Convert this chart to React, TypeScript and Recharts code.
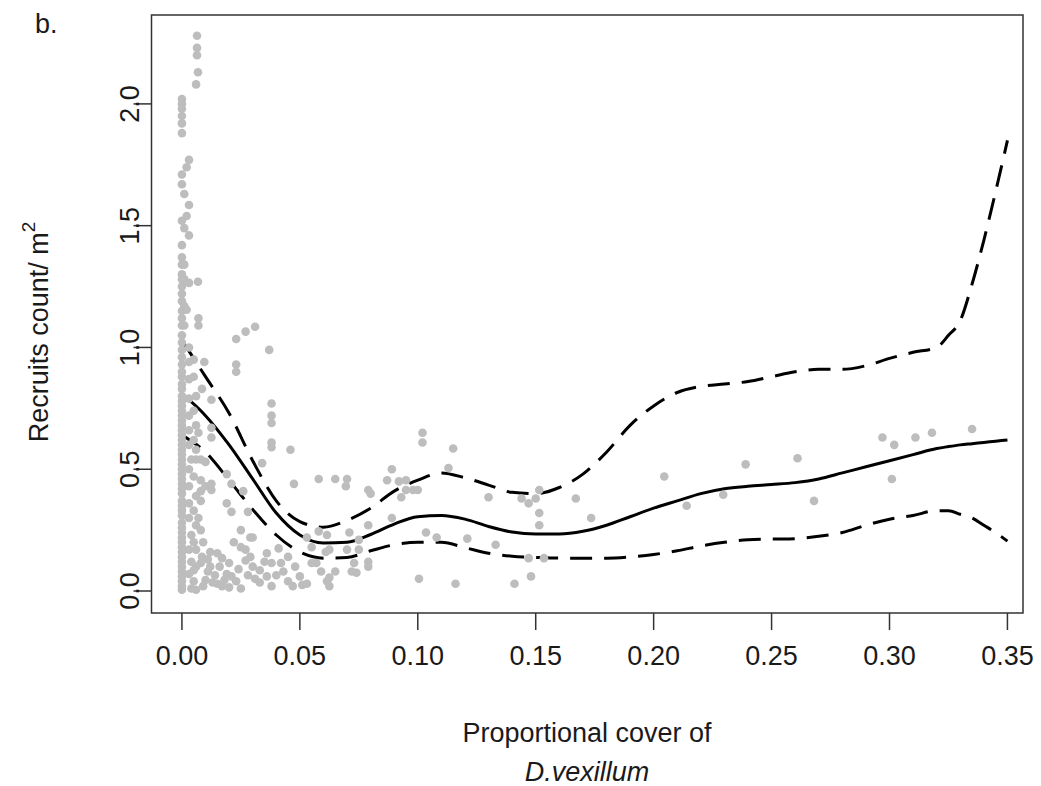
import React from "react";
import { ComposedChart, Scatter, Line, XAxis, YAxis, ReferenceArea } from "recharts";

// axis ticks
const xTicks = [0, 0.05, 0.1, 0.15, 0.2, 0.25, 0.3, 0.35];
const yTicks = [0, 0.5, 1, 1.5, 2];
const xDomain = [-0.0129, 0.3566];
const yDomain = [-0.0903, 2.365];

// fitted smooth + confidence band
const coverGrid = [
  0, 0.01, 0.02, 0.03, 0.04, 0.05, 0.06, 0.07, 0.08, 0.09, 0.1, 0.11, 0.12, 0.13,
  0.14, 0.15, 0.16, 0.17, 0.18, 0.19, 0.2, 0.21, 0.22, 0.23, 0.24, 0.25, 0.26, 0.27,
  0.28, 0.29, 0.3, 0.31, 0.32, 0.325, 0.33, 0.335, 0.34, 0.345, 0.35,
];
const fitMean = [
  0.81, 0.72, 0.6, 0.46, 0.32, 0.23, 0.197, 0.2, 0.232, 0.275, 0.305, 0.31, 0.295, 0.265,
  0.242, 0.234, 0.234, 0.245, 0.27, 0.305, 0.34, 0.37, 0.4, 0.42, 0.43, 0.437, 0.445, 0.46,
  0.485, 0.51, 0.535, 0.56, 0.585, 0.593, 0.6, 0.605, 0.61, 0.615, 0.62,
];
const fitUpper = [
  1.03, 0.88, 0.73, 0.535, 0.37, 0.285, 0.262, 0.29, 0.34, 0.41, 0.455, 0.485, 0.465, 0.435,
  0.405, 0.4, 0.425, 0.48, 0.57, 0.68, 0.76, 0.815, 0.84, 0.85, 0.86, 0.88, 0.9, 0.91,
  0.91, 0.925, 0.955, 0.98, 1.0, 1.05, 1.11, 1.26, 1.44, 1.64, 1.85,
];
const fitLower = [
  0.64, 0.57, 0.455, 0.335, 0.23, 0.16, 0.135, 0.138, 0.165, 0.19, 0.2, 0.2, 0.178, 0.155,
  0.143, 0.138, 0.135, 0.135, 0.135, 0.14, 0.15, 0.165, 0.185, 0.2, 0.21, 0.213, 0.215, 0.225,
  0.24, 0.27, 0.295, 0.31, 0.33, 0.33, 0.315, 0.3, 0.27, 0.24, 0.205,
];

// observed quadrats with zero cover
const zeroCoverRecruits = [
  0.005, 0.02, 0.04, 0.06, 0.08, 0.1, 0.12, 0.14, 0.16, 0.18, 0.2, 0.22, 0.24, 0.26, 0.28,
  0.31, 0.33, 0.35, 0.37, 0.4, 0.42, 0.44, 0.46, 0.48, 0.5, 0.52, 0.54, 0.56, 0.58, 0.6,
  0.62, 0.64, 0.66, 0.68, 0.7, 0.72, 0.74, 0.76, 0.78, 0.8, 0.83, 0.85, 0.88, 0.9, 0.93,
  0.96, 0.99, 1.02, 1.05, 1.09, 1.12, 1.15, 1.19, 1.22, 1.25, 1.28, 1.3, 1.34, 1.37, 1.42,
  1.52, 1.67, 1.71, 1.88, 1.92, 1.95, 1.98, 2.0, 2.02,
];

// [cover, recruits] close to zero cover
const lowCoverPoints = [
  [0.002, 1.74], [0.003, 1.77], [0.001, 1.63], [0.002, 1.54], [0.003, 1.585], [0.001, 1.49],
  [0.003, 1.46], [0.001, 1.34], [0.001, 1.28], [0.003, 1.265], [0.001, 1.17], [0.002, 1.155],
  [0.001, 1.09], [0.003, 1.0], [0.003, 0.94], [0.003, 0.87], [0.003, 0.79], [0.003, 0.72],
  [0.003, 0.66], [0.003, 0.6], [0.004, 0.54], [0.003, 0.5], [0.003, 0.43], [0.003, 0.36],
  [0.003, 0.3], [0.004, 0.23], [0.003, 0.17], [0.004, 0.12], [0.003, 0.07], [0.004, 0.01],
  [0.0064, 2.28], [0.0064, 2.23], [0.0064, 2.2], [0.0068, 2.13], [0.006, 2.08],
  [0.0068, 1.27], [0.007, 1.12], [0.007, 1.09], [0.0095, 0.94], [0.0085, 0.83],
  [0.0125, 0.785], [0.007, 0.65], [0.0125, 0.67], [0.0125, 0.63], [0.008, 0.54],
  [0.006, 0.54], [0.008, 0.455], [0.0125, 0.44], [0.0125, 0.415], [0.008, 0.41],
  [0.008, 0.37], [0.007, 0.3], [0.008, 0.25], [0.006, 0.17], [0.0085, 0.14], [0.011, 0.13],
  [0.008, 0.115], [0.006, 0.005], [0.011, 0.08], [0.009, 0.02], [0.005, 0.085],
  [0.01, 0.045], [0.012, 0.16], [0.005, 0.95], [0.005, 0.88], [0.006, 0.8], [0.005, 0.74],
  [0.006, 0.68], [0.005, 0.62], [0.006, 0.58], [0.005, 0.47], [0.006, 0.39], [0.005, 0.33],
  [0.006, 0.27], [0.005, 0.2], [0.006, 0.1], [0.005, 0.04], [0.01, 0.53], [0.01, 0.43],
  [0.009, 0.2],
];

// [cover, recruits] 0.01 - 0.08
const smallCoverPoints = [
  [0.023, 1.035], [0.027, 1.065], [0.031, 1.085], [0.023, 0.93], [0.023, 0.9],
  [0.019, 0.48], [0.021, 0.44], [0.019, 0.36], [0.021, 0.325], [0.026, 0.41], [0.03, 0.22],
  [0.025, 0.25], [0.015, 0.155], [0.017, 0.135], [0.02, 0.115], [0.022, 0.2], [0.025, 0.18],
  [0.03, 0.1], [0.028, 0.065], [0.014, 0.065], [0.015, 0.03], [0.018, 0.045], [0.023, 0.04],
  [0.027, 0.17], [0.036, 0.155], [0.041, 0.175], [0.038, 0.115], [0.033, 0.085],
  [0.042, 0.115], [0.045, 0.14], [0.048, 0.1], [0.05, 0.06], [0.057, 0.115], [0.059, 0.08],
  [0.0615, 0.04], [0.053, 0.03], [0.045, 0.04], [0.04, 0.065], [0.038, 0.02], [0.033, 0.035],
  [0.074, 0.075], [0.073, 0.115], [0.038, 0.77], [0.038, 0.72], [0.038, 0.69],
  [0.038, 0.61], [0.038, 0.59], [0.037, 0.99], [0.046, 0.58], [0.034, 0.525],
  [0.028, 0.325], [0.0475, 0.44], [0.058, 0.46], [0.065, 0.46], [0.07, 0.46], [0.0695, 0.43],
  [0.053, 0.22], [0.0615, 0.23], [0.058, 0.245], [0.071, 0.24], [0.055, 0.18],
  [0.0625, 0.17], [0.07, 0.17], [0.029, 0.22], [0.051, 0.025], [0.0625, 0.055],
  [0.0625, 0.02], [0.061, 0.16], [0.055, 0.115], [0.065, 0.08], [0.075, 0.21],
  [0.079, 0.12], [0.079, 0.1], [0.072, 0.08], [0.075, 0.17], [0.079, 0.27],
  [0.016, 0.1], [0.019, 0.07], [0.013, 0.035], [0.02, 0.015], [0.024, 0.09], [0.027, 0.125],
  [0.017, 0.02], [0.021, 0.06], [0.025, 0.01], [0.031, 0.05], [0.035, 0.12], [0.043, 0.08],
  [0.047, 0.02], [0.036, 0.06], [0.029, 0.14], [0.012, 0.1],
];

// [cover, recruits] above 0.08
const highCoverPoints = [
  [0.079, 0.415], [0.08, 0.4], [0.087, 0.455], [0.089, 0.5], [0.092, 0.45], [0.095, 0.455],
  [0.095, 0.415], [0.098, 0.415], [0.1, 0.415], [0.093, 0.385], [0.102, 0.65], [0.102, 0.61],
  [0.115, 0.585], [0.113, 0.505], [0.13, 0.385], [0.1035, 0.24], [0.108, 0.22],
  [0.121, 0.215], [0.133, 0.19], [0.1005, 0.05], [0.116, 0.03], [0.089, 0.3],
  [0.144, 0.38], [0.147, 0.36], [0.15, 0.38], [0.1515, 0.415], [0.1515, 0.32],
  [0.1515, 0.27], [0.147, 0.135], [0.1535, 0.135], [0.148, 0.06], [0.141, 0.03],
  [0.167, 0.38], [0.1735, 0.3], [0.2045, 0.47], [0.214, 0.35], [0.2295, 0.395],
  [0.239, 0.52], [0.261, 0.545], [0.268, 0.37], [0.297, 0.63], [0.302, 0.6], [0.301, 0.46],
  [0.311, 0.63], [0.318, 0.65], [0.335, 0.665],
];

const lineData = coverGrid.map((x, i) => ({
  x,
  fit: fitMean[i],
  upper: fitUpper[i],
  lower: fitLower[i],
}));

const scatterData = [
  ...zeroCoverRecruits.map((y) => ({ x: 0, y })),
  ...[...lowCoverPoints, ...smallCoverPoints, ...highCoverPoints].map(([x, y]) => ({ x, y })),
];

const FONT = '"Liberation Sans", Arial, sans-serif';
const INK = "#1a1a1a";

const XTick = ({ x, payload }: any) => (
  <text x={x} y={665} textAnchor="middle" fontSize={27} fontFamily={FONT} fill={INK}>
    {payload.value.toFixed(2)}
  </text>
);

const YTick = ({ y, payload }: any) => (
  <text
    transform={`translate(139, ${y}) rotate(-90)`}
    textAnchor="middle"
    fontSize={27}
    fontFamily={FONT}
    fill={INK}
  >
    {payload.value.toFixed(1)}
  </text>
);

const XTitle = () => (
  <g fontFamily={FONT} fontSize={27} fill={INK}>
    <text x={587} y={742} textAnchor="middle">Proportional cover of</text>
    <text x={587} y={781} textAnchor="middle" fontStyle="italic">D.vexillum</text>
  </g>
);

const YTitle = () => (
  <g fontFamily={FONT} fill={INK}>
    <text transform="translate(48, 332) rotate(-90)" textAnchor="middle" fontSize={27}>
      Recruits count/ m
      <tspan fontSize={19} dy={-13}>2</tspan>
    </text>
    <text x={35} y={33} fontSize={27}>b.</text>
  </g>
);

const Dot = ({ cx, cy }: any) => <circle cx={cx} cy={cy} r={4.3} fill="#bdbdbd" />;

export default function App() {
  return (
    <div style={{ position: "absolute", left: 0, top: 0, background: "#fff" }}>
      <ComposedChart
        width={1041}
        height={786}
        data={lineData}
        margin={{ top: 15, right: 18, bottom: 0, left: 0 }}
      >
        <XAxis
          type="number"
          dataKey="x"
          domain={xDomain}
          ticks={xTicks}
          allowDataOverflow
          height={173}
          axisLine={false}
          tickSize={17}
          tickLine={{ stroke: "#333", strokeWidth: 1.5 }}
          tick={<XTick />}
          label={<XTitle />}
        />
        <YAxis
          type="number"
          dataKey="y"
          domain={yDomain}
          ticks={yTicks}
          allowDataOverflow
          width={151.5}
          axisLine={false}
          tickSize={18}
          tickLine={{ stroke: "#333", strokeWidth: 1.5 }}
          tick={<YTick />}
          label={<YTitle />}
        />
        <ReferenceArea
          x1={xDomain[0]}
          x2={xDomain[1]}
          y1={yDomain[0]}
          y2={yDomain[1]}
          fill="none"
          stroke="#333"
          strokeWidth={1.5}
          ifOverflow="visible"
        />
        <Scatter data={scatterData} shape={<Dot />} isAnimationActive={false} />
        <Line
          type="monotone"
          dataKey="fit"
          stroke="#000"
          strokeWidth={3}
          dot={false}
          activeDot={false}
          isAnimationActive={false}
        />
        <Line
          type="monotone"
          dataKey="upper"
          stroke="#000"
          strokeWidth={3}
          strokeDasharray="22 12"
          dot={false}
          activeDot={false}
          isAnimationActive={false}
        />
        <Line
          type="monotone"
          dataKey="lower"
          stroke="#000"
          strokeWidth={3}
          strokeDasharray="22 12"
          dot={false}
          activeDot={false}
          isAnimationActive={false}
        />
      </ComposedChart>
    </div>
  );
}
